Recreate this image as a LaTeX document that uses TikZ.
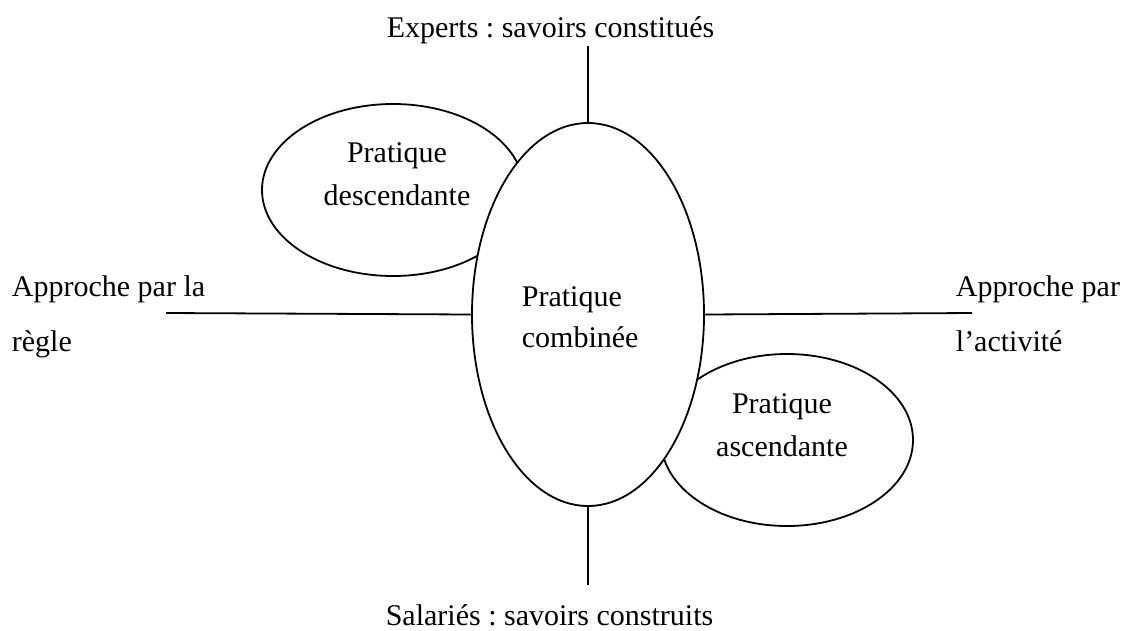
\documentclass[tikz,border=0pt]{standalone}
\usepackage{fontspec}
\setmainfont{Liberation Serif}
\usetikzlibrary{shapes.geometric,positioning}
\frenchspacing

\tikzset{every picture/.style={line width=1.8pt},
    pratique/.style={ellipse,draw,fill=white,inner sep=0pt},
    txt/.style={inner sep=0pt,font=\fontsize{30}{36}\selectfont},
}

\begin{document}
\begin{tikzpicture}[x=1pt,y=-1pt]
        \useasboundingbox (0,0) rectangle (1129,630);
        \node[pratique,minimum width=262pt,minimum height=172pt] (desc) at (393,190) {};
        \node[pratique,minimum width=252pt,minimum height=172pt] (asc) at (787,440) {};
        \node[pratique,minimum width=232pt,minimum height=383pt] (comb) at (588,314.5) {};
        \node[txt,align=center,font=\fontsize{30}{43}\selectfont] (descT) at (397,174.3) {Pratique\\descendante};
        \node[txt,align=center,font=\fontsize{30}{43}\selectfont] (ascT) at (782,425.3) {Pratique\\ascendante};
        \node[txt,align=left,anchor=west,font=\fontsize{30}{41}\selectfont] (combT) at (521,317.3) {Pratique\\combinée};
        \node[txt,anchor=base] (experts) at (550.5,37) {Experts : savoirs constitués};
        \node[txt,anchor=base] (salaries) at (549.5,625.5) {Salariés : savoirs construits};
        \node[txt,align=left,anchor=west,font=\fontsize{30}{55}\selectfont] (regle) at (11,316.5) {Approche par la\\règle};
        \node[txt,align=left,anchor=west,font=\fontsize{30}{55}\selectfont] (activite) at (955,313.3) {Approche par\\l’activité};
        \coordinate (haut) at (588,46);
        \coordinate (bas) at (588,585);
        \coordinate (gauche) at (166,313);
        \coordinate (droite) at (972,313);
        \draw (comb.north) -- (haut);
        \draw (comb.south) -- (bas);
        \draw (comb.west) -- (gauche);
        \draw (comb.east) -- (droite);
    \end{tikzpicture}
\end{document}
